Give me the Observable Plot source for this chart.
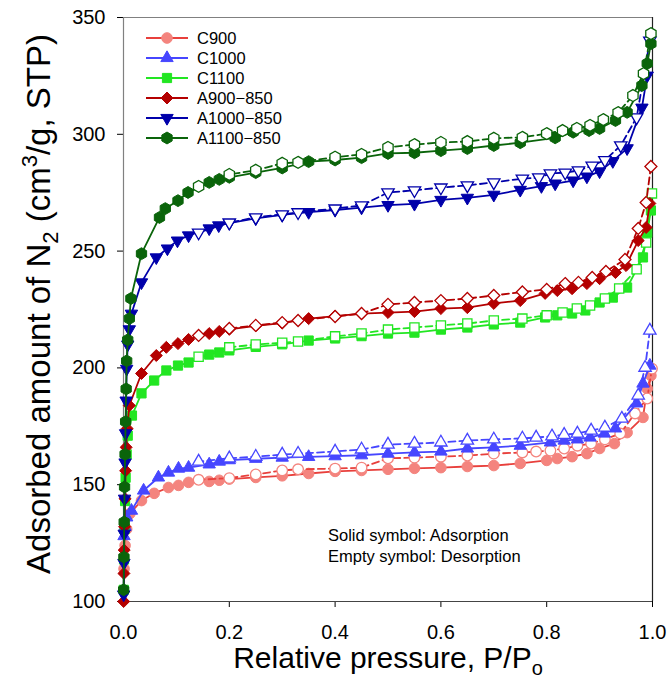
<!DOCTYPE html>
<html>
<head>
<meta charset="utf-8">
<script src="https://cdn.jsdelivr.net/npm/d3@7"></script>
<script src="https://cdn.jsdelivr.net/npm/@observablehq/plot@0.6"></script>
<style>
  body { margin: 0; background: #fff; }
  #chart svg { display: block; }
</style>
</head>
<body>
<div id="chart"></div>
<script>
// ---------- data ----------
const xDomain = [0, 1];
const yDomain = [100, 350];
const xTicks = [0, 0.2, 0.4, 0.6, 0.8, 1.0];
const yTicks = [100, 150, 200, 250, 300, 350];
const seriesNames = ["C900", "C1000", "C1100", "A900\u2212850", "A1000\u2212850", "A1100\u2212850"];
const markerColors = ["#F4847E", "#4646FF", "#22E622", "#B40000", "#0000AA", "#0A640A"];
const lineColors   = ["#E8403C", "#4646FF", "#22E622", "#B40000", "#0000AA", "#0A640A"];

const c900AdsP = [0.001, 0.003, 0.006, 0.012, 0.034, 0.058, 0.085, 0.104, 0.123, 0.162, 0.181, 0.2, 0.25, 0.3, 0.35, 0.4, 0.45, 0.5, 0.55, 0.6, 0.65, 0.7, 0.75, 0.8, 0.82, 0.848, 0.876, 0.9, 0.928, 0.952, 0.982, 0.99, 0.997];
const c900AdsV = [114, 124, 131, 137.6, 143.2, 146.3, 148.8, 149.7, 151.0, 151.4, 151.9, 152.4, 153.1, 153.8, 154.8, 155.7, 156.1, 156.6, 157.0, 157.3, 157.8, 158.2, 159.1, 160.4, 161.2, 162.0, 163.3, 165.5, 167.6, 172.3, 178.8, 191.1, 196.7];
const c900DesP = [0.999, 0.99, 0.967, 0.939, 0.91, 0.884, 0.858, 0.833, 0.807, 0.78, 0.754, 0.7, 0.65, 0.6, 0.55, 0.5, 0.45, 0.4, 0.33, 0.3, 0.25, 0.2, 0.142];
const c900DesV = [199.7, 186.9, 180.5, 171.9, 169.4, 167.6, 166.7, 165.5, 164.6, 164.2, 163.8, 163.3, 162.5, 162.0, 161.6, 161.3, 157.3, 156.9, 156.6, 156.1, 154.4, 152.8, 152.1];

const c1000AdsP = [0.001, 0.003, 0.006, 0.015, 0.038, 0.066, 0.085, 0.104, 0.123, 0.162, 0.181, 0.2, 0.25, 0.3, 0.35, 0.4, 0.45, 0.5, 0.55, 0.6, 0.65, 0.7, 0.75, 0.807, 0.833, 0.858, 0.882, 0.909, 0.93, 0.97, 0.982, 0.995];
const c1000AdsV = [128, 132, 136, 138.9, 147.5, 153.1, 155.2, 156.9, 157.3, 158.7, 159.9, 160.5, 161.1, 161.6, 161.9, 162.2, 162.6, 163.3, 163.8, 164.2, 165.5, 166.0, 166.7, 168.1, 168.9, 169.4, 170.2, 171.9, 174.1, 184.8, 193.3, 201.0];
const c1000DesP = [0.995, 0.986, 0.973, 0.942, 0.91, 0.884, 0.858, 0.833, 0.81, 0.78, 0.754, 0.7, 0.65, 0.6, 0.55, 0.5, 0.45, 0.4, 0.33, 0.3, 0.25, 0.2, 0.142];
const c1000DesV = [216.0, 200.1, 188.2, 178.3, 174.5, 173.2, 171.9, 171.4, 170.7, 170.2, 169.8, 169.4, 168.9, 168.1, 167.6, 167.2, 165.1, 164.2, 163.3, 162.9, 162.0, 161.3, 159.9];

const c1100AdsP = [0.0005, 0.001, 0.002, 0.003, 0.004, 0.006, 0.008, 0.016, 0.034, 0.058, 0.081, 0.103, 0.123, 0.162, 0.181, 0.2, 0.25, 0.3, 0.35, 0.4, 0.45, 0.5, 0.55, 0.6, 0.65, 0.7, 0.75, 0.797, 0.82, 0.848, 0.873, 0.9, 0.925, 0.952, 0.982, 0.99, 0.997];
const c1100AdsV = [105, 118, 131, 143, 153, 163, 171, 179.6, 189.1, 194.6, 198.9, 201.0, 202.3, 205.7, 206.6, 207.5, 209.0, 210.1, 211.7, 212.6, 213.6, 214.7, 215.1, 216.4, 217.3, 218.6, 219.4, 221.6, 222.5, 223.3, 224.6, 228.0, 230.1, 234.4, 247.3, 257.9, 267.4];
const c1100DesP = [0.999, 0.988, 0.97, 0.937, 0.91, 0.882, 0.857, 0.83, 0.8, 0.754, 0.7, 0.65, 0.6, 0.55, 0.5, 0.45, 0.4, 0.33, 0.3, 0.25, 0.2, 0.142];
const c1100DesV = [274.7, 253.7, 242.2, 234.0, 229.7, 226.7, 225.4, 223.7, 222.5, 221.1, 220.3, 219.0, 218.2, 217.3, 216.4, 214.7, 213.5, 211.3, 210.8, 210.0, 208.8, 204.8];

const a900AdsP = [0.0003, 0.0008, 0.0013, 0.002, 0.003, 0.004, 0.005, 0.007, 0.011, 0.034, 0.062, 0.081, 0.103, 0.123, 0.162, 0.181, 0.2, 0.25, 0.3, 0.35, 0.4, 0.45, 0.5, 0.55, 0.6, 0.65, 0.7, 0.75, 0.797, 0.82, 0.848, 0.876, 0.9, 0.93, 0.95, 0.973, 0.988, 0.995];
const a900AdsV = [100, 112, 122, 132, 144, 156, 166, 174, 183.9, 197.6, 205.3, 208.8, 210.4, 212.2, 214.7, 215.6, 216.5, 218.0, 219.2, 221.1, 222.2, 223.2, 223.7, 224.1, 225.4, 225.8, 227.6, 228.8, 231.9, 233.1, 233.9, 236.1, 238.2, 240.8, 243.8, 254.5, 260.1, 270.4];
const a900DesP = [0.997, 0.988, 0.973, 0.948, 0.912, 0.886, 0.86, 0.835, 0.8, 0.754, 0.7, 0.65, 0.6, 0.55, 0.5, 0.45, 0.4, 0.33, 0.3, 0.25, 0.2, 0.142];
const a900DesV = [286.2, 270.8, 259.7, 246.4, 241.3, 238.7, 236.6, 236.1, 233.6, 232.5, 231.0, 229.7, 228.8, 228.0, 227.2, 223.3, 222.0, 220.3, 219.4, 218.2, 216.9, 213.9];

const a1000AdsP = [0.0003, 0.0008, 0.0013, 0.002, 0.003, 0.004, 0.005, 0.006, 0.008, 0.011, 0.015, 0.034, 0.062, 0.083, 0.102, 0.123, 0.162, 0.18, 0.2, 0.25, 0.3, 0.35, 0.4, 0.45, 0.5, 0.55, 0.6, 0.65, 0.7, 0.75, 0.79, 0.816, 0.85, 0.876, 0.9, 0.925, 0.952, 0.98, 0.99];
const a1000AdsV = [103, 116.5, 129, 144, 159.5, 172, 186, 199.6, 210, 216.5, 223.2, 236.6, 247.3, 251.1, 254.5, 256.7, 259.7, 261.0, 262.0, 264.0, 265.5, 266.7, 267.6, 268.6, 269.7, 270.2, 271.9, 272.8, 274.1, 276.2, 277.8, 278.9, 280.2, 281.9, 284.1, 288.5, 294.0, 311.4, 325.1];
const a1000DesP = [0.995, 0.97, 0.94, 0.91, 0.886, 0.86, 0.835, 0.807, 0.785, 0.754, 0.7, 0.65, 0.6, 0.55, 0.5, 0.45, 0.4, 0.33, 0.3, 0.25, 0.2, 0.142];
const a1000DesV = [340.1, 307.2, 295.2, 288.9, 286.6, 284.5, 283.6, 283.2, 281.5, 281.0, 279.4, 278.1, 277.2, 276.0, 275.1, 269.5, 268.2, 266.6, 265.7, 264.4, 262.2, 257.9];

const a1100AdsP = [0.0003, 0.0008, 0.0013, 0.002, 0.003, 0.004, 0.005, 0.006, 0.008, 0.011, 0.014, 0.034, 0.068, 0.079, 0.103, 0.122, 0.162, 0.181, 0.2, 0.25, 0.3, 0.35, 0.4, 0.45, 0.5, 0.55, 0.6, 0.65, 0.7, 0.75, 0.816, 0.85, 0.88, 0.9, 0.93, 0.952, 0.98, 0.99, 0.997];
const a1100AdsV = [105, 119, 134, 149, 163, 177, 191, 203, 212, 221.1, 229.7, 248.9, 264.4, 268.2, 271.6, 275.1, 279.4, 280.7, 281.6, 283.6, 285.6, 288.3, 289.0, 290.0, 291.8, 292.1, 293.0, 293.9, 295.2, 296.4, 298.5, 300.9, 301.6, 302.5, 305.9, 309.4, 320.9, 330.3, 338.8];
const a1100DesP = [0.997, 0.983, 0.963, 0.935, 0.907, 0.882, 0.857, 0.83, 0.8, 0.754, 0.7, 0.65, 0.6, 0.55, 0.5, 0.45, 0.4, 0.33, 0.3, 0.25, 0.2, 0.142];
const a1100DesV = [343.1, 326.0, 316.6, 309.3, 306.3, 303.8, 302.5, 301.6, 300.3, 298.7, 298.3, 296.9, 296.5, 295.6, 294.4, 291.4, 290.2, 288.0, 287.6, 284.6, 282.8, 277.7];

const noteLines = ["Solid symbol: Adsorption", "Empty symbol: Desorption"];

// ---------- symbols ----------
const triangleDown = {
  draw(context, size) {
    const y = -Math.sqrt(size / (Math.sqrt(3) * 3));
    context.moveTo(0, -y * 2);
    context.lineTo(-Math.sqrt(3) * y, y);
    context.lineTo(Math.sqrt(3) * y, y);
    context.closePath();
  }
};
const hexagon = {
  draw(context, size) {
    const r = Math.sqrt(size / (1.5 * Math.sqrt(3)));
    for (let i = 0; i < 6; i++) {
      const a = Math.PI / 3 * i - Math.PI / 2;
      const x = r * Math.cos(a), y = r * Math.sin(a);
      if (i) context.lineTo(x, y); else context.moveTo(x, y);
    }
    context.closePath();
  }
};
const symbols = [d3.symbolCircle, d3.symbolTriangle, d3.symbolSquare, d3.symbolDiamond2, triangleDown, hexagon];
const radii = [5.3, 4.6, 5.2, 5.4, 4.6, 5.4];

const series = [
  [c900AdsP, c900AdsV, c900DesP, c900DesV],
  [c1000AdsP, c1000AdsV, c1000DesP, c1000DesV],
  [c1100AdsP, c1100AdsV, c1100DesP, c1100DesV],
  [a900AdsP, a900AdsV, a900DesP, a900DesV],
  [a1000AdsP, a1000AdsV, a1000DesP, a1000DesV],
  [a1100AdsP, a1100AdsV, a1100DesP, a1100DesV]
].map((arr, k) => ({
  name: seriesNames[k],
  ads: arr[0].map((p, i) => ({p, v: arr[1][i]})),
  des: arr[2].map((p, i) => ({p, v: arr[3][i]})),
  symbol: symbols[k], r: radii[k], fill: markerColors[k], line: lineColors[k]
}));

// ---------- plot ----------
const FONT = "Arial, 'Liberation Sans', Helvetica, sans-serif";
const marks = [
  Plot.ruleX([xDomain[0]], {stroke: "#808080", strokeWidth: 1.2}),
  Plot.ruleY([yDomain[1]], {stroke: "#808080", strokeWidth: 1.2}),
  Plot.ruleX([xDomain[1]], {stroke: "#222", strokeWidth: 1.2}),
  Plot.ruleY([yDomain[0]], {stroke: "#444", strokeWidth: 1.2})
];
for (const s of series) {
  marks.push(Plot.line(s.ads, {x: "p", y: "v", stroke: s.line, strokeWidth: 1.8}));
  marks.push(Plot.dot(s.ads, {x: "p", y: "v", symbol: s.symbol, r: s.r, fill: s.fill, stroke: s.fill, strokeWidth: 1}));
  marks.push(Plot.line(s.des, {x: "p", y: "v", stroke: s.line, strokeWidth: 1.8, strokeDasharray: "7,4"}));
  marks.push(Plot.dot(s.des, {x: "p", y: "v", symbol: s.symbol, r: s.r, fill: "white", stroke: s.fill, strokeWidth: 1.3}));
}

const chart = Plot.plot({
  width: 667,
  height: 681,
  marginLeft: 123,
  marginRight: 15,
  marginTop: 17,
  marginBottom: 80,
  style: {fontFamily: FONT, fontSize: "20px", background: "white", color: "#000", overflow: "visible"},
  x: {domain: xDomain, ticks: xTicks, tickFormat: d => d.toFixed(1), tickSize: 6, tickPadding: 17, label: null},
  y: {domain: yDomain, ticks: yTicks, tickSize: 6, tickPadding: 12, label: null},
  marks
});
document.getElementById("chart").appendChild(chart);

// ---------- legend, note, axis titles ----------
const svg = d3.select(chart);
const lg = svg.append("g").attr("font-family", FONT).attr("font-size", "16.5px").attr("text-anchor", "start");
series.forEach((s, k) => {
  const yy = 38 + k * 20;
  lg.append("line").attr("x1", 146).attr("x2", 188).attr("y1", yy).attr("y2", yy)
    .attr("stroke", s.line).attr("stroke-width", 2);
  lg.append("path").attr("transform", `translate(167,${yy})`)
    .attr("d", d3.symbol(s.symbol, Math.PI * s.r * s.r)())
    .attr("fill", s.fill).attr("stroke", s.fill);
  lg.append("text").attr("x", 197).attr("y", yy).attr("dy", "0.36em").text(s.name);
});

const note = svg.append("g").attr("font-family", FONT).attr("font-size", "16.5px").attr("text-anchor", "start");
noteLines.forEach((t, i) => {
  note.append("text").attr("x", 328).attr("y", 535 + i * 21).attr("dy", "0.36em").text(t);
});

const xt = svg.append("text").attr("font-family", FONT).attr("font-size", "30px")
  .attr("text-anchor", "middle").attr("x", 388).attr("y", 668);
xt.append("tspan").text("Relative pressure, P/P");
xt.append("tspan").attr("font-size", "20px").attr("dy", 7).text("o");

const yt = svg.append("text").attr("font-family", FONT).attr("font-size", "33px")
  .attr("text-anchor", "middle").attr("transform", "translate(50,304) rotate(-90)");
yt.append("tspan").text("Adsorbed amount of N");
yt.append("tspan").attr("font-size", "22px").attr("dy", 8).text("2");
yt.append("tspan").attr("dy", -8).text(" (cm");
yt.append("tspan").attr("font-size", "22px").attr("dy", -13).text("3");
yt.append("tspan").attr("dy", 13).text("/g, STP)");
</script>
</body>
</html>
